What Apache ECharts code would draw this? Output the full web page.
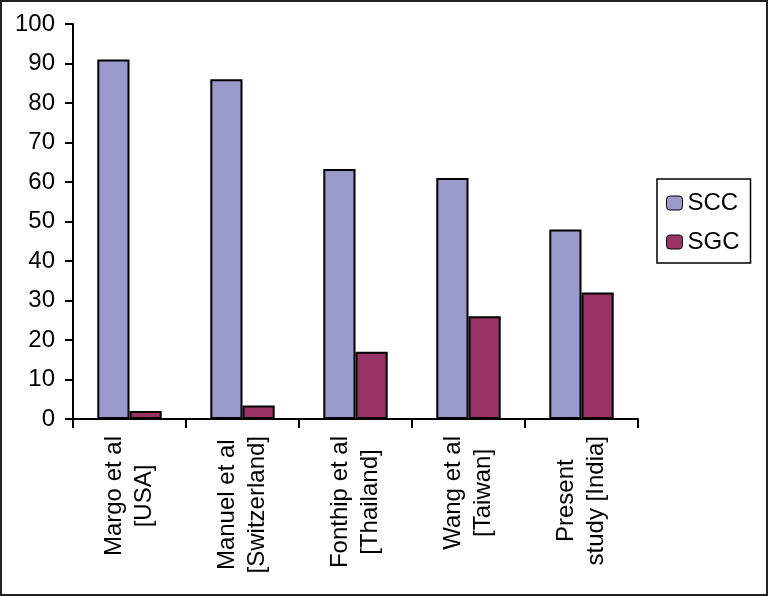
<!DOCTYPE html>
<html>
<head>
<meta charset="utf-8">
<script src="https://cdn.jsdelivr.net/npm/echarts@6/dist/echarts.min.js"></script>
<style>
  html, body { margin: 0; padding: 0; background: #fff; }
  #main { width: 768px; height: 596px; }
</style>
</head>
<body>
<div id="main"></div>
<script>
// studies along the x axis (two lines each)
const categories = [
  'Margo et al\n[USA]',
  'Manuel et al\n[Switzerland]',
  'Fonthip et al\n[Thailand]',
  'Wang et al\n[Taiwan]',
  'Present\nstudy [India]'
];
const sccValues = [91, 86, 63.3, 61, 48];
const sgcValues = [2, 3.4, 17, 26, 32];
const yTicks = [0, 10, 20, 30, 40, 50, 60, 70, 80, 90, 100];

const font = 'Liberation Sans, Arial, sans-serif';

let chartDom = document.getElementById('main');
let myChart = echarts.init(chartDom);
let option;

option = {
  animation: false,
  textStyle: { fontFamily: font, color: '#000' },
  graphic: [
    {
      type: 'rect',
      shape: { x: 1, y: 1, width: 766, height: 594 },
      style: { fill: 'none', stroke: '#222', lineWidth: 2 },
      silent: true
    }
  ],
  grid: { left: 73, right: 130, top: 24, bottom: 177 },
  legend: {
    orient: 'vertical',
    left: 657,
    top: 179,
    padding: [12, 11, 9, 9],
    borderColor: '#000',
    borderWidth: 1.5,
    itemWidth: 16,
    itemHeight: 14,
    itemGap: 15,
    textStyle: { fontFamily: font, fontSize: 24, color: '#000' },
    data: [
      { name: 'SCC', itemStyle: { borderColor: '#000', borderWidth: 1 } },
      { name: 'SGC', itemStyle: { borderColor: '#000', borderWidth: 1 } }
    ]
  },
  xAxis: {
    type: 'category',
    data: categories,
    axisLine: { lineStyle: { color: '#000', width: 2 } },
    axisTick: { show: true, alignWithLabel: false, length: 9, lineStyle: { color: '#000', width: 2 } },
    axisLabel: {
      interval: 0,
      rotate: 90,
      margin: 17,
      formatter: v => v.split('\n').map(s => '{c|' + s + '}').join('\n'),
      rich: {
        c: { align: 'center', fontFamily: font, fontSize: 24, lineHeight: 30, color: '#000' }
      }
    }
  },
  yAxis: {
    type: 'value',
    min: yTicks[0],
    max: yTicks[yTicks.length - 1],
    interval: 10,
    splitLine: { show: false },
    axisLine: { show: true, lineStyle: { color: '#000', width: 2 } },
    axisTick: { show: true, length: 8, lineStyle: { color: '#000', width: 2 } },
    axisLabel: { margin: 18, fontFamily: font, fontSize: 24, color: '#000' }
  },
  series: [
    {
      name: 'SCC',
      type: 'bar',
      data: sccValues,
      barGap: '0%',
      barCategoryGap: '43%',
      itemStyle: { color: '#9999cc', borderColor: '#000', borderWidth: 2 }
    },
    {
      name: 'SGC',
      type: 'bar',
      data: sgcValues,
      itemStyle: { color: '#993366', borderColor: '#000', borderWidth: 2 }
    }
  ]
};

option && myChart.setOption(option);
</script>
</body>
</html>
